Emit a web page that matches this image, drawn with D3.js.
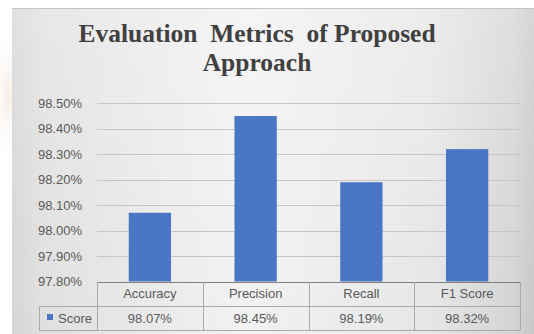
<!DOCTYPE html>
<html>
<head>
<meta charset="utf-8">
<script src="https://cdn.jsdelivr.net/npm/d3@7"></script>
<style>
  html, body { margin: 0; padding: 0; background: #ffffff; }
  svg { display: block; }
  text { white-space: pre; }
</style>
</head>
<body>
<svg id="chart" width="534" height="334"></svg>
<script>
// Chart data
const categories = ["Accuracy", "Precision", "Recall", "F1 Score"];
const scores = [0.9807, 0.9845, 0.9819, 0.9832];
const seriesName = "Score";
const yTicks = [0.978, 0.979, 0.980, 0.981, 0.982, 0.983, 0.984, 0.985];
const titleLines = ["Evaluation  Metrics  of Proposed", "Approach"];

const svg = d3.select("#chart");
const W = 534, H = 334;

// Faint warm haze on the white margin at the left
const defs = svg.append("defs");
const haze = defs.append("radialGradient").attr("id", "haze");
haze.append("stop").attr("offset", "0%").attr("stop-color", "#f3e8e0").attr("stop-opacity", 0.8);
haze.append("stop").attr("offset", "100%").attr("stop-color", "#ffffff").attr("stop-opacity", 0);
svg.append("ellipse").attr("cx", 8).attr("cy", 95).attr("rx", 20).attr("ry", 75)
  .attr("fill", "url(#haze)");

// Panel background: light centre, darker sides
const bg = defs.append("linearGradient").attr("id", "panelBg")
  .attr("x1", "0%").attr("x2", "100%").attr("y1", "0%").attr("y2", "0%");
[["0%", "#d5d5d5"], ["6%", "#e0e0e0"], ["45%", "#f2f2f2"], ["80%", "#e6e6e6"], ["96%", "#d4d4d4"], ["100%", "#c8c8c8"]]
  .forEach(([o, c]) => bg.append("stop").attr("offset", o).attr("stop-color", c));
const bgV = defs.append("linearGradient").attr("id", "panelShade")
  .attr("x1", "0%").attr("x2", "0%").attr("y1", "0%").attr("y2", "100%");
bgV.append("stop").attr("offset", "0%").attr("stop-color", "#ffffff").attr("stop-opacity", 0.25);
bgV.append("stop").attr("offset", "100%").attr("stop-color", "#ffffff").attr("stop-opacity", 0);

svg.append("rect").attr("x", 12).attr("y", 8).attr("width", W - 12).attr("height", H - 8)
  .attr("fill", "url(#panelBg)");
svg.append("rect").attr("x", 12).attr("y", 8).attr("width", W - 12).attr("height", H - 8)
  .attr("fill", "url(#panelShade)");
svg.append("line").attr("x1", 12).attr("x2", W).attr("y1", 8.5).attr("y2", 8.5)
  .attr("stroke", "#c4c4c4").attr("stroke-width", 1);

// Title
svg.append("g").selectAll("text").data(titleLines).join("text")
  .attr("x", 257).attr("y", (d, i) => 42 + i * 28.5)
  .attr("text-anchor", "middle")
  .attr("font-family", "'Liberation Serif', 'Times New Roman', serif")
  .attr("font-weight", "bold").attr("font-size", 25.5)
  .attr("fill", "#404040")
  .text(d => d);

// Scales
const plotLeft = 97, plotRight = 520;
const x = d3.scaleBand().domain(categories).range([plotLeft, plotRight]).padding(0);
const y = d3.scaleLinear().domain([0.978, 0.985]).range([281.5, 103.3]);

// Gridlines
svg.append("g").selectAll("line").data(yTicks).join("line")
  .attr("x1", plotLeft).attr("x2", plotRight)
  .attr("y1", d => Math.round(y(d)) + 0.5).attr("y2", d => Math.round(y(d)) + 0.5)
  .attr("stroke", "#c6c6c6").attr("stroke-width", 1);

// Y axis labels
const yAxis = d3.axisLeft(y).tickValues(yTicks).tickFormat(d3.format(".2%")).tickSize(0).tickPadding(0);
const yg = svg.append("g").attr("transform", "translate(82,0)").call(yAxis);
yg.select(".domain").remove();
yg.selectAll("text")
  .attr("font-family", "'Liberation Sans', Arial, sans-serif")
  .attr("font-size", 13).attr("fill", "#595959");

// Bars
const barW = x.bandwidth() * 0.4;
svg.append("g").selectAll("rect").data(scores).join("rect")
  .attr("x", (d, i) => x(categories[i]) + (x.bandwidth() - barW) / 2)
  .attr("y", d => y(d))
  .attr("width", barW)
  .attr("height", d => y(0.978) - y(d))
  .attr("fill", "#4a76c6");

// Data table below the plot
const rowTop = 282, rowMid = 306, rowBot = 330.5, legendLeft = 39;
const table = svg.append("g");
const cellStroke = "#a9a9a9";
// horizontal rules
table.append("line").attr("x1", plotLeft).attr("x2", plotRight).attr("y1", rowTop + 0.5).attr("y2", rowTop + 0.5)
  .attr("stroke", "#7f7f7f");
table.append("line").attr("x1", legendLeft).attr("x2", plotRight).attr("y1", rowMid + 0.5).attr("y2", rowMid + 0.5)
  .attr("stroke", cellStroke);
table.append("line").attr("x1", legendLeft).attr("x2", plotRight).attr("y1", rowBot).attr("y2", rowBot)
  .attr("stroke", cellStroke);
// vertical rules
const colEdges = categories.map(c => x(c)).concat([plotRight]);
table.selectAll("line.v").data(colEdges).join("line").attr("class", "v")
  .attr("x1", d => Math.round(d) + 0.5).attr("x2", d => Math.round(d) + 0.5)
  .attr("y1", rowTop).attr("y2", rowBot)
  .attr("stroke", cellStroke);
table.append("line").attr("x1", legendLeft + 0.5).attr("x2", legendLeft + 0.5)
  .attr("y1", rowMid).attr("y2", rowBot).attr("stroke", cellStroke);

const cellFont = "'Liberation Sans', Arial, sans-serif";
table.selectAll("text.cat").data(categories).join("text").attr("class", "cat")
  .attr("x", d => x(d) + x.bandwidth() / 2).attr("y", 298)
  .attr("text-anchor", "middle").attr("font-family", cellFont).attr("font-size", 13)
  .attr("fill", "#595959").text(d => d);
table.selectAll("text.val").data(scores).join("text").attr("class", "val")
  .attr("x", (d, i) => x(categories[i]) + x.bandwidth() / 2).attr("y", 323)
  .attr("text-anchor", "middle").attr("font-family", cellFont).attr("font-size", 13)
  .attr("fill", "#595959").text(d => d3.format(".2%")(d));

// Legend key in the table
table.append("rect").attr("x", 47).attr("y", 314).attr("width", 6).attr("height", 6).attr("fill", "#4a76c6");
table.append("text").attr("x", 58).attr("y", 323)
  .attr("font-family", cellFont).attr("font-size", 13).attr("fill", "#595959").text(seriesName);
</script>
</body>
</html>
